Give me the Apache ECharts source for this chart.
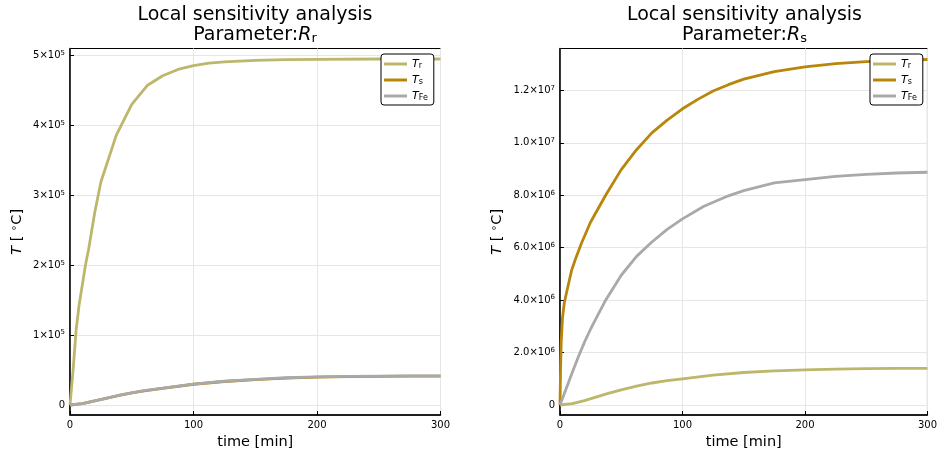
<!DOCTYPE html>
<html>
<head>
<meta charset="utf-8">
<script src="https://cdn.jsdelivr.net/npm/echarts@6/dist/echarts.min.js"></script>
<style>html,body{margin:0;padding:0;background:#fff;}#c{width:940px;height:457px;}</style>
</head>
<body>
<div id="c"></div>
<script>
// ---- data (left: Parameter R_r) ----
const rrTimeTr = [0,2.5,5,7.5,10,12.5,15,20,25,37.5,50,62.5,75,87.5,100,112.5,125,150,175,200,250,300];
const rrTr = [0,50000,108000,145000,172000,200000,222000,275000,319000,386000,430000,457000,471000,480000,485500,489000,491000,493000,494000,494500,495000,495000];
const rrTimeB = [0,10,20,30,40,50,60,75,100,125,150,175,200,225,250,275,300];
const rrTFe = [0,2000,6000,10000,14000,17500,20500,24000,30000,34000,36800,39000,40300,41000,41400,41600,41700];
const rrTs  = [0,1950,5900,9900,13850,17300,20300,23750,29700,33650,36450,38600,39900,40600,41000,41200,41300];
// ---- data (right: Parameter R_s) ----
const rsTimeTs = [0,0.5,1,2,3.5,5.4,9.5,12.5,17.5,25,37.5,50,62.5,75,87.5,100,112.5,125,137.5,150,175,200,225,250,275,300];
const rsTs = [0,1.5e6,2.4e6,3.3e6,3.9e6,4.3e6,5.14e6,5.55e6,6.17e6,6.98e6,8.02e6,8.98e6,9.74e6,10.38e6,10.87e6,11.3e6,11.66e6,11.98e6,12.22e6,12.43e6,12.72e6,12.9e6,13.02e6,13.1e6,13.15e6,13.18e6];
const rsTimeTFe = [0,5,10,15,20,25,30,37.5,50,62.5,75,87.5,100,117.5,137.5,150,175,200,225,250,275,300];
const rsTFe = [0,0.62e6,1.24e6,1.84e6,2.4e6,2.9e6,3.35e6,4.02e6,4.95e6,5.67e6,6.22e6,6.7e6,7.1e6,7.58e6,7.98e6,8.18e6,8.47e6,8.6e6,8.72e6,8.8e6,8.85e6,8.88e6];
const rsTimeTr = [0,10,20,30,40,50,62.5,75,87.5,100,125,150,175,200,225,250,275,300];
const rsTr = [0,0.05e6,0.17e6,0.31e6,0.45e6,0.58e6,0.72e6,0.84e6,0.93e6,1.0e6,1.14e6,1.24e6,1.3e6,1.34e6,1.37e6,1.385e6,1.395e6,1.4e6];
// ---- ticks ----
const xTicks = [0,100,200,300];
const yTicksL = [0,100000,200000,300000,400000,500000];
const yTicksR = [0,2e6,4e6,6e6,8e6,1e7,1.2e7];
const seriesNames = ['Tr','Ts','TFe'];
const legendLabels = {Tr:'{i|T}{s|r}', Ts:'{i|T}{s|s}', TFe:'{i|T}{s|Fe}'};
const colors = {Tr:'#bdb76b', Ts:'#b8860b', TFe:'#a9a9a9'};

function zip(t, v){ return t.map((x,i)=>[x, v[i]]); }

const FONT = 'DejaVu Sans';
const supRich = {
  b:{fontSize:10, lineHeight:12, color:'#000', fontFamily:FONT},
  sup:{fontSize:7, lineHeight:6, verticalAlign:'top', color:'#000', fontFamily:FONT}
};
function fmtL(v){ if (v===0) return '{b|0}'; return '{b|' + Math.round(v/1e5) + '×10}{sup|5}'; }
function fmtR(v){ if (v===0) return '{b|0}'; const e = v>=1e7?7:6; return '{b|' + (v/Math.pow(10,e)).toFixed(1) + '×10}{sup|' + e + '}'; }

function xAxis(grid){
  return {
    type:'value', gridIndex:grid, min:0, max:300, interval:100,
    name:'time [min]', nameLocation:'middle', nameGap:20,
    nameTextStyle:{fontSize:14.5, color:'#000', fontFamily:FONT},
    axisLine:{show:true, onZero:false, lineStyle:{color:'#000', width:1.5}},
    axisTick:{show:true, inside:true, length:4, lineStyle:{color:'#000'}},
    axisLabel:{fontSize:10, color:'#000', margin:5, fontFamily:FONT},
    splitLine:{show:true, lineStyle:{color:'#e6e6e6', width:1}}
  };
}
function yAxis(grid, min, max, ticks, fmt, gap){
  return {
    type:'value', gridIndex:grid, min:min, max:max,
    name:'{i|T} [ {sup|∘}C]', nameLocation:'middle', nameGap:gap,
    nameTextStyle:{fontSize:14.5, color:'#000', fontFamily:FONT,
      rich:{i:{fontStyle:'italic', fontSize:14.5, lineHeight:16, fontFamily:FONT},
            sup:{fontSize:10, lineHeight:9, verticalAlign:'top', fontFamily:FONT}}},
    axisLine:{show:true, onZero:false, lineStyle:{color:'#000', width:1.5}},
    axisTick:{show:true, inside:true, length:4, customValues:ticks, lineStyle:{color:'#000'}},
    axisLabel:{margin:5, customValues:ticks, formatter:fmt, rich:supRich},
    splitLine:{show:true, lineStyle:{color:'#e6e6e6', width:1}}
  };
}
function line(name, t, v, idx){
  return {
    name:name, type:'line', xAxisIndex:idx, yAxisIndex:idx,
    data:zip(t, v), symbol:'none', showSymbol:false, clip:true,
    lineStyle:{color:colors[name], width:2.8}, itemStyle:{color:colors[name]}
  };
}
const titleRich = {
  t:{fontSize:19, lineHeight:20.5, color:'#000', fontWeight:'normal', fontFamily:FONT},
  i:{fontSize:19, lineHeight:20.5, fontStyle:'italic', fontWeight:'normal', color:'#000', fontFamily:FONT},
  s:{fontSize:13, lineHeight:15, verticalAlign:'bottom', fontWeight:'normal', color:'#000', fontFamily:FONT}
};
function legend(left){
  return {
    left:left, top:54, orient:'vertical', data:seriesNames,
    icon:'rect',
    backgroundColor:'#fff', borderColor:'#000', borderWidth:1, borderRadius:3,
    padding:[4,6,3,3], itemWidth:23, itemHeight:3, itemGap:4,
    formatter:n=>legendLabels[n],
    textStyle:{fontSize:11, color:'#000', fontFamily:FONT, lineHeight:12,
      rich:{i:{fontStyle:'italic', fontSize:11, lineHeight:12, fontFamily:FONT},
            s:{fontSize:8, lineHeight:7, verticalAlign:'bottom', fontFamily:FONT}}},
    selectedMode:false
  };
}
const option = {
  animation:false,
  textStyle:{fontFamily:FONT},
  title:[
    {left:255, top:4.5, textAlign:'center', padding:0,
     text:'{t|Local sensitivity analysis}\n{t|Parameter:}{i|R}{s|r}', textStyle:{fontWeight:'normal', rich:titleRich}},
    {left:744.5, top:4.5, textAlign:'center', padding:0,
     text:'{t|Local sensitivity analysis}\n{t|Parameter:}{i|R}{s|s}', textStyle:{fontWeight:'normal', rich:titleRich}}
  ],
  legend:[legend(381), legend(870)],
  grid:[
    {left:70, right:499.5, top:48.5, bottom:42, show:true, borderColor:'#000', borderWidth:1, backgroundColor:'transparent'},
    {left:560, right:10.5, top:48.5, bottom:42, show:true, borderColor:'#000', borderWidth:1, backgroundColor:'transparent'}
  ],
  xAxis:[xAxis(0), xAxis(1)],
  yAxis:[
    yAxis(0, -14286, 510000, yTicksL, fmtL, 45),
    yAxis(1, -381000, 13600000, yTicksR, fmtR, 55)
  ],
  series:[
    line('Tr', rrTimeTr, rrTr, 0),
    line('Ts', rrTimeB, rrTs, 0),
    line('TFe', rrTimeB, rrTFe, 0),
    line('Tr', rsTimeTr, rsTr, 1),
    line('Ts', rsTimeTs, rsTs, 1),
    line('TFe', rsTimeTFe, rsTFe, 1)
  ]
};
const chart = echarts.init(document.getElementById('c'), null, {renderer:'canvas'});
chart.setOption(option);
</script>
</body>
</html>
